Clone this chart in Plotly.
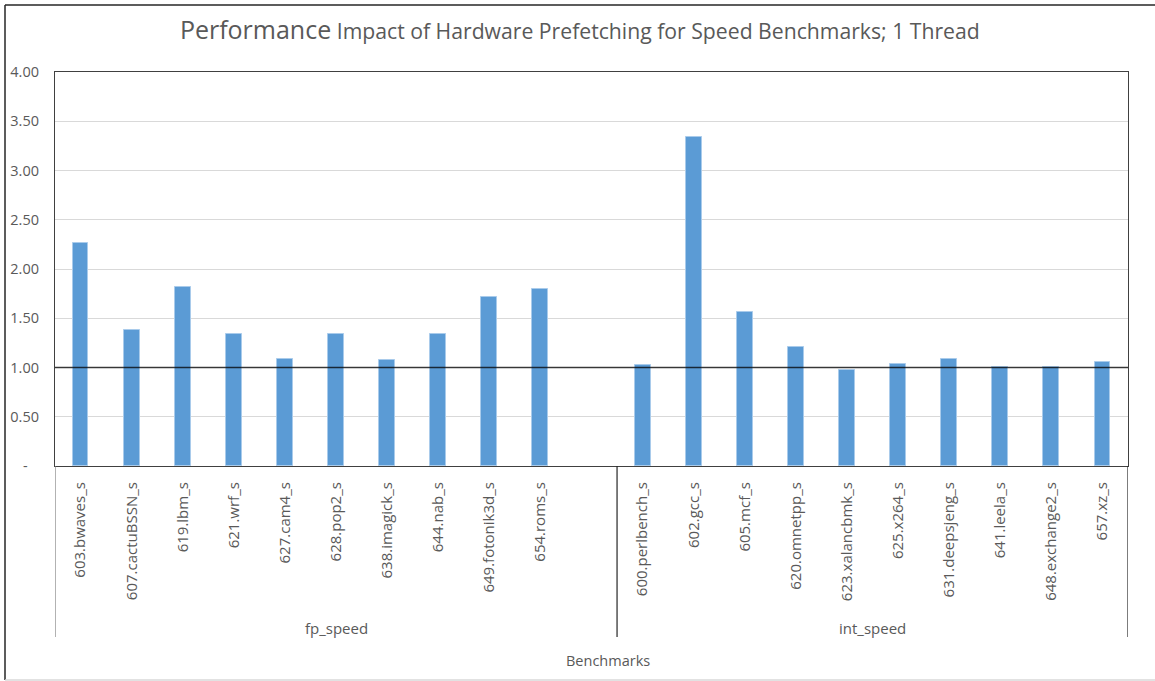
import plotly.graph_objects as go

# Benchmarks per suite and their relative performance (prefetch on / off)
fp_benchmarks = ["603.bwaves_s", "607.cactuBSSN_s", "619.lbm_s", "621.wrf_s", "627.cam4_s",
                 "628.pop2_s", "638.imagick_s", "644.nab_s", "649.fotonik3d_s", "654.roms_s"]
fp_values = [2.26, 1.38, 1.82, 1.34, 1.09, 1.34, 1.08, 1.34, 1.72, 1.80]

int_benchmarks = ["600.perlbench_s", "602.gcc_s", "605.mcf_s", "620.omnetpp_s", "623.xalancbmk_s",
                  "625.x264_s", "631.deepsjeng_s", "641.leela_s", "648.exchange2_s", "657.xz_s"]
int_values = [1.03, 3.34, 1.56, 1.21, 0.97, 1.04, 1.09, 1.01, 1.01, 1.06]

group_names = ["fp_speed", "int_speed"]

y_tick_values = [0, 0.5, 1.0, 1.5, 2.0, 2.5, 3.0, 3.5, 4.0]
y_tick_labels = ["-\u00a0\u00a0\u00a0", "0.50", "1.00", "1.50", "2.00", "2.50", "3.00", "3.50", "4.00"]

FONT = "Open Sans"
TEXT = "#595959"
BAR = "#5B9BD5"

# fp_speed occupies one extra (empty) slot after its benchmarks
fp_x = list(range(len(fp_benchmarks)))
fp_slots = len(fp_benchmarks) + 1
int_x = [fp_slots + i for i in range(len(int_benchmarks))]
n_slots = fp_slots + len(int_benchmarks)

x_all = fp_x + int_x
y_all = fp_values + int_values
labels_all = fp_benchmarks + int_benchmarks

fig = go.Figure()
fig.add_trace(go.Bar(
    x=x_all, y=y_all, width=0.31,
    marker=dict(color=BAR, line=dict(color="#A9CBEB", width=1)),
    hoverinfo="x+y", showlegend=False,
))

W, H = 1155, 681
L, R, T, B = 55, 27, 72, 215
plot_h = H - T - B
plot_w = W - L - R

def py(pixel_y):
    """Pixel row -> paper y."""
    return (H - B - pixel_y) / plot_h

def px(pixel_x):
    """Pixel column -> paper x."""
    return (pixel_x - L) / plot_w

shapes = []
# reference line at 1.00
shapes.append(dict(type="line", xref="paper", yref="y", x0=0, x1=1, y0=1, y1=1,
                   line=dict(color="rgba(0,0,0,0.75)", width=1.5), layer="above"))
# category group dividers
for xv, col in [(-0.5, "#7f7f7f"), (fp_slots - 0.5, "#262626"), (n_slots - 0.5, "#262626")]:
    shapes.append(dict(type="line", xref="x", yref="paper", x0=xv, x1=xv, y0=0, y1=py(637),
                       line=dict(color=col, width=1.2)))
# chart area frame
shapes.append(dict(type="line", xref="paper", yref="paper", x0=px(5), x1=px(5), y0=py(680), y1=py(5),
                   line=dict(color="#262626", width=1.5)))
shapes.append(dict(type="line", xref="paper", yref="paper", x0=px(5), x1=px(1155), y0=py(5), y1=py(5),
                   line=dict(color="#262626", width=1.5)))
shapes.append(dict(type="line", xref="paper", yref="paper", x0=px(5), x1=px(1155), y0=py(680), y1=py(680),
                   line=dict(color="#D9D9D9", width=1.5)))

annotations = [
    dict(text=group_names[0], x=(fp_slots - 1) / 2, xref="x", y=py(628), yref="paper",
         showarrow=False, font=dict(family=FONT, size=15, color=TEXT), yanchor="middle"),
    dict(text=group_names[1], x=fp_slots + (len(int_benchmarks) - 1) / 2, xref="x", y=py(628), yref="paper",
         showarrow=False, font=dict(family=FONT, size=15, color=TEXT), yanchor="middle"),
    dict(text="Benchmarks", x=px(608), xref="paper", y=py(660), yref="paper",
         showarrow=False, font=dict(family=FONT, size=14.5, color=TEXT), yanchor="middle"),
]

fig.update_layout(
    width=W, height=H,
    margin=dict(l=L, r=R, t=T, b=B, autoexpand=False),
    paper_bgcolor="white", plot_bgcolor="white",
    title=dict(
        text="<span style='font-size:25px'>Performance</span> Impact of Hardware Prefetching for Speed Benchmarks; 1 Thread",
        x=0.502, xanchor="center", y=1 - 32 / H, yanchor="middle",
        font=dict(family=FONT, size=21.2, color=TEXT),
    ),
    xaxis=dict(
        range=[-0.5, n_slots - 0.5], tickmode="array", tickvals=x_all, ticktext=labels_all,
        tickangle=-90, ticks="", showgrid=False, zeroline=False, automargin=False,
        showline=True, linecolor="#404040", linewidth=1.2, mirror=True,
        tickfont=dict(family=FONT, size=15, color=TEXT), ticklabelstandoff=9,
    ),
    yaxis=dict(
        range=[0, 4], tickmode="array", tickvals=y_tick_values, ticktext=y_tick_labels,
        ticks="", showgrid=True, gridcolor="#D9D9D9", gridwidth=1, zeroline=False, automargin=False,
        showline=True, linecolor="#404040", linewidth=1.2, mirror=True,
        tickfont=dict(family=FONT, size=14.5, color=TEXT), ticklabelstandoff=12,
    ),
    shapes=shapes, annotations=annotations, bargap=0,
)

fig.write_html("out.html")
